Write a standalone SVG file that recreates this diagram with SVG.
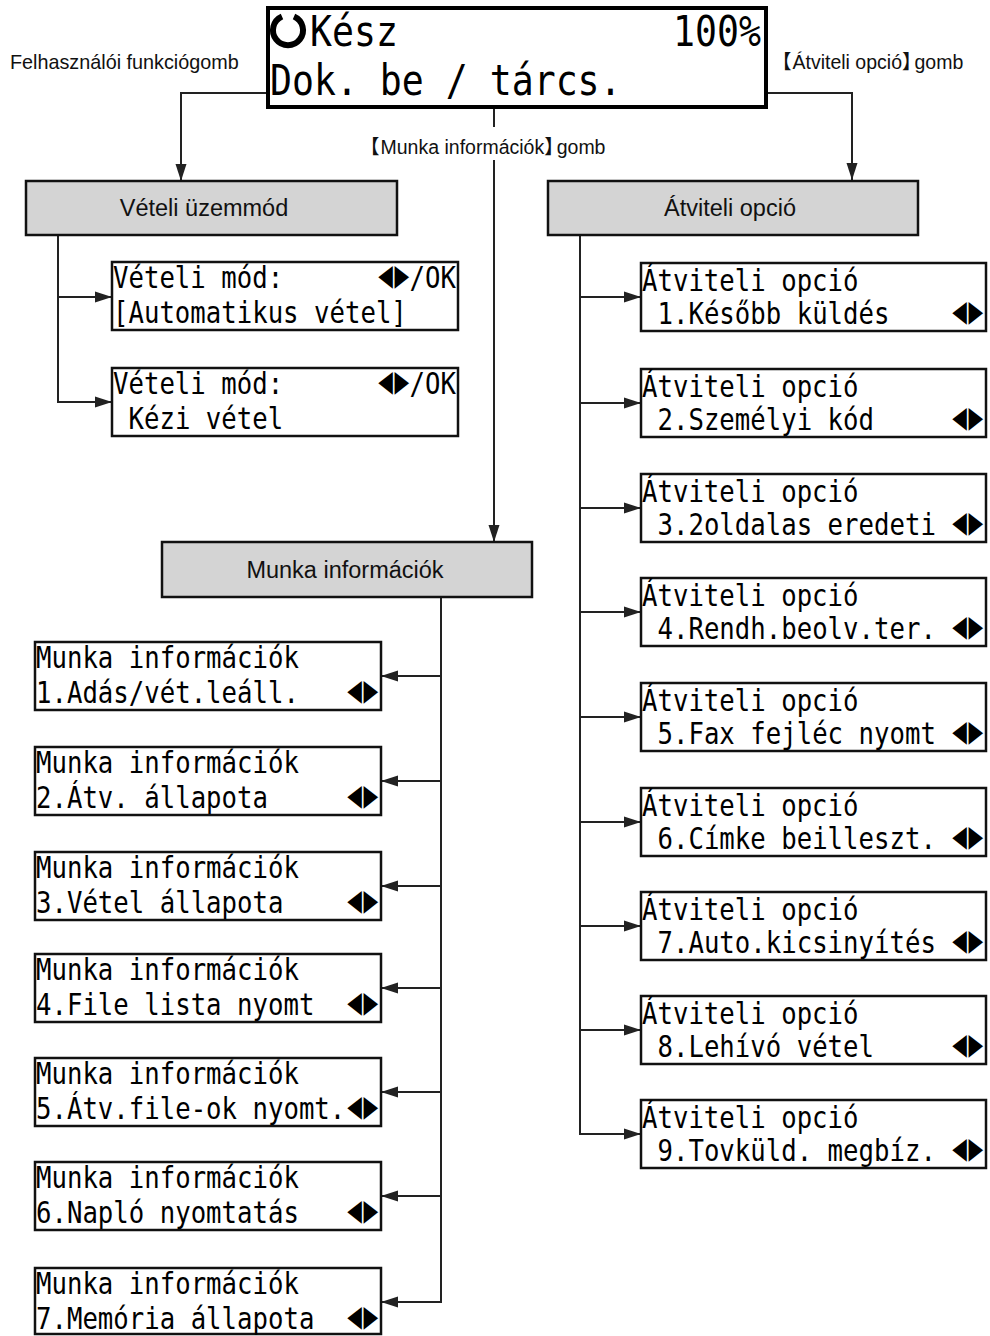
<svg xmlns="http://www.w3.org/2000/svg" width="990" height="1336" viewBox="0 0 990 1336">
<defs>
<style>
.box{fill:#fff;stroke:#111;stroke-width:2.5}
.top{fill:#fff;stroke:#000;stroke-width:4}
.gray{fill:#d4d4d4;stroke:#111;stroke-width:2.5}
.lcd{font-family:"DejaVu Sans Mono",monospace;font-size:25.7px;fill:#000}
.ar{font-family:"DejaVu Sans",sans-serif;font-size:19px;fill:#000;text-anchor:end}
.big{font-family:"DejaVu Sans Mono",monospace;font-size:36.5px;fill:#000}
.lbl{font-family:"Liberation Sans",Arial,"Noto Sans CJK JP",sans-serif;font-size:19.5px;fill:#111}
.rb{letter-spacing:-7px}
.hd{font-family:"Liberation Sans",Arial,sans-serif;font-size:23.5px;fill:#111;text-anchor:middle}
.conn path{fill:none;stroke:#222;stroke-width:2}
</style>
<marker id="ah" markerUnits="userSpaceOnUse" markerWidth="17" markerHeight="12" refX="17" refY="6" orient="auto">
<path d="M0,0.5 L17,6 L0,11.5 z" fill="#222"/>
</marker>
</defs>
<rect width="990" height="1336" fill="#fff"/>

<g id="connectors" class="conn">
<path d="M268,93 H181 V181" marker-end="url(#ah)"/>
<path d="M766,93 H852 V180" marker-end="url(#ah)"/>
<path d="M494,107 V127"/>
<path d="M494,160 V542" marker-end="url(#ah)"/>
<path d="M58,235 V402 H112" marker-end="url(#ah)"/>
<path d="M58,297 H112" marker-end="url(#ah)"/>
<path d="M580,235 V1134 H641" marker-end="url(#ah)"/>
<path d="M580,297 H641" marker-end="url(#ah)"/>
<path d="M580,403 H641" marker-end="url(#ah)"/>
<path d="M580,508 H641" marker-end="url(#ah)"/>
<path d="M580,612 H641" marker-end="url(#ah)"/>
<path d="M580,717 H641" marker-end="url(#ah)"/>
<path d="M580,822 H641" marker-end="url(#ah)"/>
<path d="M580,926 H641" marker-end="url(#ah)"/>
<path d="M580,1030 H641" marker-end="url(#ah)"/>
<path d="M441,597 V1302 H381" marker-end="url(#ah)"/>
<path d="M441,676 H381" marker-end="url(#ah)"/>
<path d="M441,781 H381" marker-end="url(#ah)"/>
<path d="M441,886 H381" marker-end="url(#ah)"/>
<path d="M441,988 H381" marker-end="url(#ah)"/>
<path d="M441,1092 H381" marker-end="url(#ah)"/>
<path d="M441,1196 H381" marker-end="url(#ah)"/>
</g>

<g id="main-lcd">
<rect class="top" x="268" y="8" width="498" height="99"/>
<path d="M294,16.5 A15,15 0 1 1 282,16.5" fill="none" stroke="#000" stroke-width="6"/>
<text class="big" transform="translate(310 46) scale(1 1.17)">Kész</text>
<text class="big" text-anchor="end" transform="translate(761 46) scale(1 1.17)">100%</text>
<text class="big" transform="translate(270 95) scale(1 1.17)">Dok. be / tárcs.</text>
</g>

<g id="labels">
<text class="lbl" x="10" y="69" style="font-size:19.8px">Felhasználói funkciógomb</text>
<text class="lbl" x="772" y="69">【<tspan dx="1">Átviteli opció</tspan><tspan class="rb">】</tspan>gomb</text>
<text class="lbl" x="360" y="154">【<tspan dx="1">Munka információk</tspan><tspan class="rb">】</tspan>gomb</text>
</g>

<g id="veteli-uzemmod">
<rect class="gray" x="26" y="181" width="371" height="54"/>
<text class="hd" x="204" y="216">Vételi üzemmód</text>
</g>
<g id="atviteli-opcio">
<rect class="gray" x="548" y="181" width="370" height="54"/>
<text class="hd" x="730" y="216">Átviteli opció</text>
</g>
<g id="munka-informaciok">
<rect class="gray" x="162" y="542" width="370" height="55"/>
<text class="hd" x="345" y="578">Munka információk</text>
</g>

<g id="veteli-1">
<rect class="box" x="112" y="262" width="346" height="68"/>
<text class="lcd" transform="translate(113 288) scale(1 1.18)">Vételi mód:</text>
<text class="ar" transform="translate(409 285) scale(1 1.55)">◀<tspan dx="1.5">▶</tspan></text>
<text class="lcd" text-anchor="end" transform="translate(456 288) scale(1 1.18)">/OK</text>
<text class="lcd" transform="translate(113 323) scale(1 1.18)">[Automatikus vétel]</text>
</g>
<g id="veteli-2">
<rect class="box" x="112" y="368" width="346" height="68"/>
<text class="lcd" transform="translate(113 394) scale(1 1.18)">Vételi mód:</text>
<text class="ar" transform="translate(409 391) scale(1 1.55)">◀<tspan dx="1.5">▶</tspan></text>
<text class="lcd" text-anchor="end" transform="translate(456 394) scale(1 1.18)">/OK</text>
<text class="lcd" transform="translate(128.5 429) scale(1 1.18)">Kézi vétel</text>
</g>

<g id="atv-1">
<rect class="box" x="641" y="263" width="345" height="68"/>
<text class="lcd" transform="translate(642 291) scale(1 1.18)">Átviteli opció</text>
<text class="lcd" transform="translate(657.5 324) scale(1 1.18)">1.Később küldés</text>
<text class="ar" transform="translate(983 321) scale(1 1.55)">◀<tspan dx="1.5">▶</tspan></text>
</g>
<g id="atv-2">
<rect class="box" x="641" y="369" width="345" height="68"/>
<text class="lcd" transform="translate(642 397) scale(1 1.18)">Átviteli opció</text>
<text class="lcd" transform="translate(657.5 430) scale(1 1.18)">2.Személyi kód</text>
<text class="ar" transform="translate(983 427) scale(1 1.55)">◀<tspan dx="1.5">▶</tspan></text>
</g>
<g id="atv-3">
<rect class="box" x="641" y="474" width="345" height="68"/>
<text class="lcd" transform="translate(642 502) scale(1 1.18)">Átviteli opció</text>
<text class="lcd" transform="translate(657.5 535) scale(1 1.18)">3.2oldalas eredeti</text>
<text class="ar" transform="translate(983 532) scale(1 1.55)">◀<tspan dx="1.5">▶</tspan></text>
</g>
<g id="atv-4">
<rect class="box" x="641" y="578" width="345" height="68"/>
<text class="lcd" transform="translate(642 606) scale(1 1.18)">Átviteli opció</text>
<text class="lcd" transform="translate(657.5 639) scale(1 1.18)">4.Rendh.beolv.ter.</text>
<text class="ar" transform="translate(983 636) scale(1 1.55)">◀<tspan dx="1.5">▶</tspan></text>
</g>
<g id="atv-5">
<rect class="box" x="641" y="683" width="345" height="68"/>
<text class="lcd" transform="translate(642 711) scale(1 1.18)">Átviteli opció</text>
<text class="lcd" transform="translate(657.5 744) scale(1 1.18)">5.Fax fejléc nyomt</text>
<text class="ar" transform="translate(983 741) scale(1 1.55)">◀<tspan dx="1.5">▶</tspan></text>
</g>
<g id="atv-6">
<rect class="box" x="641" y="788" width="345" height="68"/>
<text class="lcd" transform="translate(642 816) scale(1 1.18)">Átviteli opció</text>
<text class="lcd" transform="translate(657.5 849) scale(1 1.18)">6.Címke beilleszt.</text>
<text class="ar" transform="translate(983 846) scale(1 1.55)">◀<tspan dx="1.5">▶</tspan></text>
</g>
<g id="atv-7">
<rect class="box" x="641" y="892" width="345" height="68"/>
<text class="lcd" transform="translate(642 920) scale(1 1.18)">Átviteli opció</text>
<text class="lcd" transform="translate(657.5 953) scale(1 1.18)">7.Auto.kicsinyítés</text>
<text class="ar" transform="translate(983 950) scale(1 1.55)">◀<tspan dx="1.5">▶</tspan></text>
</g>
<g id="atv-8">
<rect class="box" x="641" y="996" width="345" height="68"/>
<text class="lcd" transform="translate(642 1024) scale(1 1.18)">Átviteli opció</text>
<text class="lcd" transform="translate(657.5 1057) scale(1 1.18)">8.Lehívó vétel</text>
<text class="ar" transform="translate(983 1054) scale(1 1.55)">◀<tspan dx="1.5">▶</tspan></text>
</g>
<g id="atv-9">
<rect class="box" x="641" y="1100" width="345" height="68"/>
<text class="lcd" transform="translate(642 1128) scale(1 1.18)">Átviteli opció</text>
<text class="lcd" transform="translate(657.5 1161) scale(1 1.18)">9.Tovküld. megbíz.</text>
<text class="ar" transform="translate(983 1158) scale(1 1.55)">◀<tspan dx="1.5">▶</tspan></text>
</g>

<g id="munka-1">
<rect class="box" x="35" y="642" width="346" height="68"/>
<text class="lcd" transform="translate(36 668) scale(1 1.18)">Munka információk</text>
<text class="lcd" transform="translate(36 703) scale(1 1.18)">1.Adás/vét.leáll.</text>
<text class="ar" transform="translate(378 700) scale(1 1.55)">◀<tspan dx="1.5">▶</tspan></text>
</g>
<g id="munka-2">
<rect class="box" x="35" y="747" width="346" height="68"/>
<text class="lcd" transform="translate(36 773) scale(1 1.18)">Munka információk</text>
<text class="lcd" transform="translate(36 808) scale(1 1.18)">2.Átv. állapota</text>
<text class="ar" transform="translate(378 805) scale(1 1.55)">◀<tspan dx="1.5">▶</tspan></text>
</g>
<g id="munka-3">
<rect class="box" x="35" y="852" width="346" height="68"/>
<text class="lcd" transform="translate(36 878) scale(1 1.18)">Munka információk</text>
<text class="lcd" transform="translate(36 913) scale(1 1.18)">3.Vétel állapota</text>
<text class="ar" transform="translate(378 910) scale(1 1.55)">◀<tspan dx="1.5">▶</tspan></text>
</g>
<g id="munka-4">
<rect class="box" x="35" y="954" width="346" height="68"/>
<text class="lcd" transform="translate(36 980) scale(1 1.18)">Munka információk</text>
<text class="lcd" transform="translate(36 1015) scale(1 1.18)">4.File lista nyomt</text>
<text class="ar" transform="translate(378 1012) scale(1 1.55)">◀<tspan dx="1.5">▶</tspan></text>
</g>
<g id="munka-5">
<rect class="box" x="35" y="1058" width="346" height="68"/>
<text class="lcd" transform="translate(36 1084) scale(1 1.18)">Munka információk</text>
<text class="lcd" transform="translate(36 1119) scale(1 1.18)">5.Átv.file-ok nyomt.</text>
<text class="ar" transform="translate(378 1116) scale(1 1.55)">◀<tspan dx="1.5">▶</tspan></text>
</g>
<g id="munka-6">
<rect class="box" x="35" y="1162" width="346" height="68"/>
<text class="lcd" transform="translate(36 1188) scale(1 1.18)">Munka információk</text>
<text class="lcd" transform="translate(36 1223) scale(1 1.18)">6.Napló nyomtatás</text>
<text class="ar" transform="translate(378 1220) scale(1 1.55)">◀<tspan dx="1.5">▶</tspan></text>
</g>
<g id="munka-7">
<rect class="box" x="35" y="1268" width="346" height="66"/>
<text class="lcd" transform="translate(36 1294) scale(1 1.18)">Munka információk</text>
<text class="lcd" transform="translate(36 1329) scale(1 1.18)">7.Memória állapota</text>
<text class="ar" transform="translate(378 1326) scale(1 1.55)">◀<tspan dx="1.5">▶</tspan></text>
</g>
</svg>
